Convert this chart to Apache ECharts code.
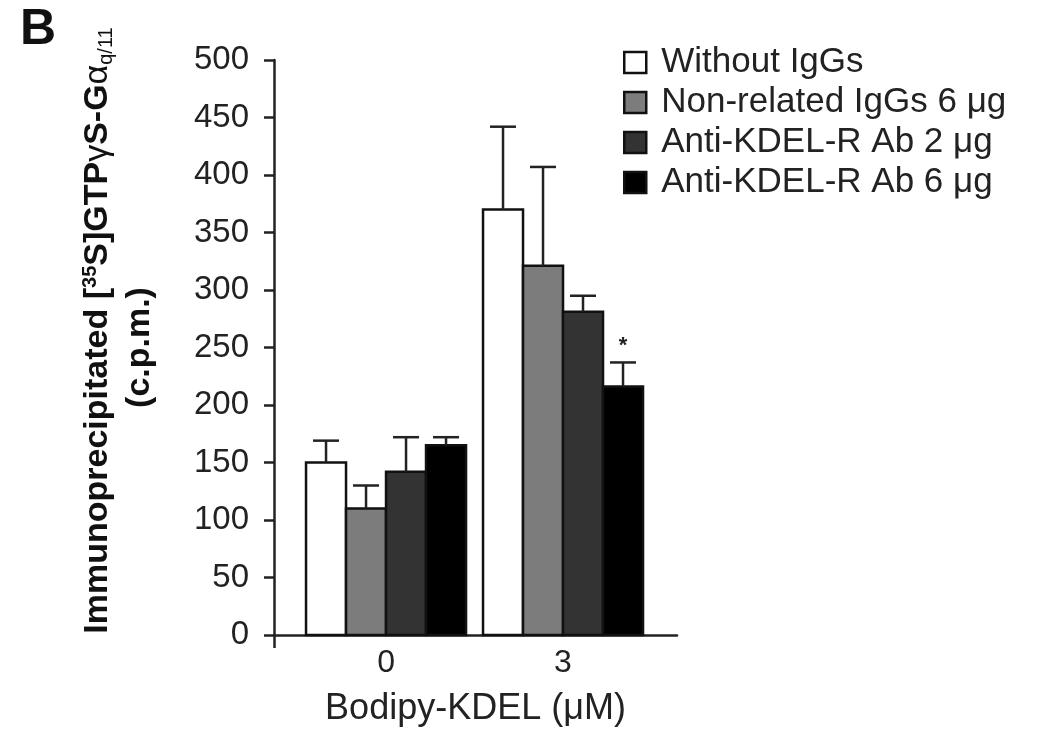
<!DOCTYPE html>
<html>
<head>
<meta charset="utf-8">
<script src="https://cdn.jsdelivr.net/npm/echarts@6/dist/echarts.min.js"></script>
<style>html,body{margin:0;padding:0;background:#fff;}#chart{width:1043px;height:733px;}</style>
</head>
<body>
<div id="chart"></div>
<script>
// ---- data ----
const categories = ['0', '3'];
const seriesNames = ['Without IgGs', 'Non-related IgGs 6 \u03bcg', 'Anti-KDEL-R Ab 2 \u03bcg', 'Anti-KDEL-R Ab 6 \u03bcg'];
const withoutIgGs = [150, 370];
const nonRelatedIgGs = [110, 321];
const antiKdel2 = [142, 281];
const antiKdel6 = [165, 216];
const errWithoutIgGs = [19, 72];
const errNonRelatedIgGs = [20, 86];
const errAntiKdel2 = [30, 14];
const errAntiKdel6 = [7, 21];
const sigAntiKdel6 = ['', '*'];
const yTicks = [0, 50, 100, 150, 200, 250, 300, 350, 400, 450, 500];

// ---- styling ----
const fills = ['#ffffff', '#7c7c7c', '#333333', '#000000'];
const offsets = [-0.339, -0.113, 0.113, 0.339];
const barW = 0.226;
const xMin = -0.633, xMax = 1.644;
const FONT = '"Liberation Sans", Arial, sans-serif';

const values = [withoutIgGs, nonRelatedIgGs, antiKdel2, antiKdel6];
const errs = [errWithoutIgGs, errNonRelatedIgGs, errAntiKdel2, errAntiKdel6];
const sigs = [['', ''], ['', ''], ['', ''], sigAntiKdel6];

function makeSeries(k) {
  return {
    type: 'custom',
    name: seriesNames[k],
    coordinateSystem: 'cartesian2d',
    itemStyle: { color: fills[k], borderColor: '#111', borderWidth: 2.5 },
    clip: false,
    data: values[k].map((v, i) => [i, v, errs[k][i]]),
    renderItem: function (params, api) {
      const idx = api.value(0), v = api.value(1), e = api.value(2);
      const cx = idx + offsets[k];
      const p0 = api.coord([cx - barW / 2, v]);
      const p1 = api.coord([cx + barW / 2, 0]);
      const top = api.coord([cx, v + e]);
      const children = [
        { type: 'rect', shape: { x: p0[0], y: p0[1], width: p1[0] - p0[0], height: p1[1] - p0[1] },
          style: { fill: fills[k], stroke: '#111', lineWidth: 2.5 } },
        { type: 'line', shape: { x1: top[0], y1: p0[1], x2: top[0], y2: top[1] },
          style: { stroke: '#222', lineWidth: 2.5 } },
        { type: 'line', shape: { x1: top[0] - 13, y1: top[1], x2: top[0] + 13, y2: top[1] },
          style: { stroke: '#222', lineWidth: 2.5 } }
      ];
      const s = sigs[k][params.dataIndex];
      if (s) {
        children.push({ type: 'text', style: { text: s, x: top[0], y: top[1] - 6, align: 'center', verticalAlign: 'bottom',
          font: 'bold 22px ' + FONT, fill: '#222' } });
      }
      return { type: 'group', children: children };
    }
  };
}

const chart = echarts.init(document.getElementById('chart'), null, { renderer: 'canvas' });
chart.setOption({
  animation: false,
  backgroundColor: '#fff',
  title: { text: 'B', left: 15, top: 0, textStyle: { fontFamily: FONT, fontWeight: 'bold', fontSize: 50, color: '#111' } },
  legend: {
    orient: 'vertical', left: 618, top: 40, itemWidth: 22, itemHeight: 21, itemGap: 5,
    textStyle: { fontFamily: FONT, fontSize: 35, color: '#222', lineHeight: 34, padding: [0, 0, 0, 10] },
    data: seriesNames.map((n, k) => ({ name: n, icon: 'rect', itemStyle: { color: fills[k], borderColor: '#111', borderWidth: 2.5 } }))
  },
  grid: { left: 274, right: 366, top: 60, bottom: 98, containLabel: false },
  xAxis: {
    type: 'value', min: xMin, max: xMax,
    splitLine: { show: false },
    axisLine: { show: true, onZero: false, lineStyle: { color: '#222', width: 2.5 } },
    axisTick: { show: true, customValues: [xMin], length: 13, lineStyle: { color: '#222', width: 2.5 } },
    axisLabel: { customValues: [0, 1], formatter: v => categories[Math.round(v)], fontFamily: FONT, fontSize: 32, color: '#222', margin: 12 },
    name: 'Bodipy-KDEL (\u03bcM)', nameLocation: 'middle', nameGap: 56,
    nameTextStyle: { fontFamily: FONT, fontSize: 36, color: '#222' }
  },
  yAxis: {
    type: 'value', min: 0, max: 500, interval: 50,
    splitLine: { show: false },
    axisLine: { show: true, onZero: false, lineStyle: { color: '#222', width: 2.5 } },
    axisTick: { show: true, length: 10, lineStyle: { color: '#222', width: 2.5 } },
    axisLabel: { fontFamily: FONT, fontSize: 33, color: '#222', margin: 25, formatter: v => yTicks.includes(v) ? String(v) : '' },
    name: '{pad| }{b|Immunoprecipitated [}{sup|35}{b|S]GTP}{g|\u03b3}{b|S-G}{g|\u03b1}{sub|q/11}\n{c|(c.p.m.)}',
    nameLocation: 'middle', nameRotate: 90, nameGap: 110,
    nameTextStyle: {
      fontFamily: FONT, color: '#111',
      rich: {
        pad: { width: 34, fontSize: 34, lineHeight: 36 },
        b: { fontFamily: FONT, fontWeight: 'bold', fontSize: 34, lineHeight: 36, color: '#111' },
        g: { fontFamily: FONT, fontWeight: 'normal', fontSize: 34, lineHeight: 36, color: '#111' },
        sup: { fontFamily: FONT, fontWeight: 'bold', fontSize: 20, lineHeight: 36, verticalAlign: 'top', color: '#111' },
        sub: { fontFamily: FONT, fontWeight: 'normal', fontSize: 20, lineHeight: 36, verticalAlign: 'bottom', color: '#111' },
        c: { fontFamily: FONT, fontWeight: 'bold', fontSize: 34, lineHeight: 48, color: '#111' }
      }
    }
  },
  series: [0, 1, 2, 3].map(makeSeries)
});
</script>
</body>
</html>
